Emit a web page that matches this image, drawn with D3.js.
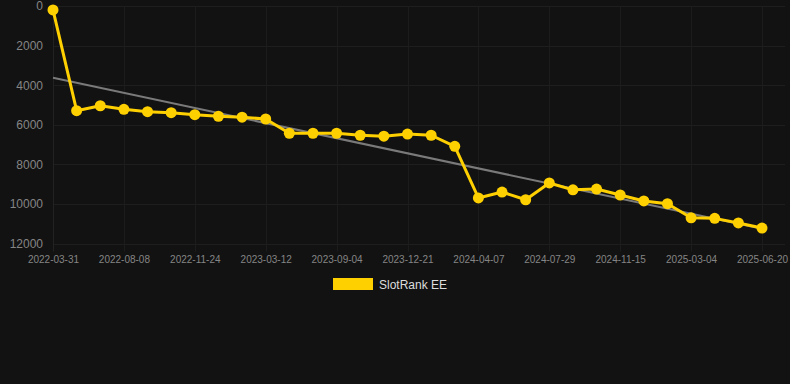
<!DOCTYPE html>
<html>
<head>
<meta charset="utf-8">
<script src="https://cdn.jsdelivr.net/npm/d3@7"></script>
<style>
  body { margin: 0; background: #121212; }
  svg { display: block; font-family: "Liberation Sans", Arial, Helvetica, sans-serif; }
</style>
</head>
<body>
<div id="chart"></div>
<script>
// data
var dates = ["2022-03-31", "2022-05-03", "2022-06-20", "2022-08-08", "2022-09-12", "2022-10-20",
    "2022-11-24", "2022-12-30", "2023-02-05", "2023-03-12", "2023-05-10", "2023-07-08",
    "2023-09-04", "2023-10-10", "2023-11-15", "2023-12-21", "2024-01-25", "2024-03-02",
    "2024-04-07", "2024-05-14", "2024-06-21", "2024-07-29", "2024-09-05", "2024-10-10",
    "2024-11-15", "2024-12-20", "2025-01-28", "2025-03-04", "2025-04-08", "2025-05-15", "2025-06-20"];
var ranks = [200, 5290, 5040, 5220, 5340, 5390, 5490, 5570, 5620, 5710,
    6430, 6430, 6430, 6530, 6580, 6470, 6530, 7090, 9700, 9400,
    9790, 8940, 9290, 9250, 9550, 9850, 9990, 10700, 10730, 10960, 11220];
var yTicks = [0, 2000, 4000, 6000, 8000, 10000, 12000];
var xTickEvery = 3;
var seriesName = "SlotRank EE";

var W = 790, H = 384;
var plotLeft = 53, plotRight = 762, plotTop = 6, plotBottom = 243.5;

var svg = d3.select("#chart").append("svg")
    .attr("width", W)
    .attr("height", H);

svg.append("rect").attr("width", W).attr("height", H).attr("fill", "#121212");

var x = d3.scalePoint()
    .domain(d3.range(dates.length))
    .range([plotLeft, plotRight]);

var y = d3.scaleLinear()
    .domain([0, 12000])
    .range([plotTop, plotBottom]);

var xTickIdx = d3.range(0, dates.length, xTickEvery);

// grid
svg.append("g")
    .selectAll("line")
    .data(yTicks)
    .enter()
    .append("line")
    .attr("x1", plotLeft)
    .attr("x2", 785)
    .attr("y1", function (d) { return Math.round(y(d)) + 0.5; })
    .attr("y2", function (d) { return Math.round(y(d)) + 0.5; })
    .attr("stroke", "#1e1e1e")
    .attr("stroke-width", 1);

svg.append("g")
    .selectAll("line")
    .data(xTickIdx)
    .enter()
    .append("line")
    .attr("x1", function (d) { return Math.round(x(d)) + 0.5; })
    .attr("x2", function (d) { return Math.round(x(d)) + 0.5; })
    .attr("y1", plotTop)
    .attr("y2", plotBottom + 8)
    .attr("stroke", function (d) { return d == 0 ? "#222" : "#1c1c1c"; })
    .attr("stroke-width", 1);

// y axis labels
var yAxis = svg.append("g")
    .attr("transform", "translate(" + 43 + ",0)")
    .call(d3.axisLeft(y).tickValues(yTicks).tickSize(0).tickPadding(0).tickFormat(d3.format("d")));
yAxis.select(".domain").remove();
yAxis.selectAll("text")
    .attr("fill", "#858585")
    .style("font-size", "12px")
    .style("font-family", "Liberation Sans, Arial, sans-serif");

// x axis labels
var xAxis = svg.append("g")
    .attr("transform", "translate(0," + 256 + ")")
    .call(d3.axisBottom(x).tickValues(xTickIdx).tickSize(0).tickPadding(0)
        .tickFormat(function (i) { return dates[i]; }));
xAxis.select(".domain").remove();
xAxis.selectAll("text")
    .attr("fill", "#858585")
    .style("font-size", "10px")
    .style("font-family", "Liberation Sans, Arial, sans-serif");

// linear trend from the series
var n = ranks.length;
var mx = d3.mean(d3.range(n));
var my = d3.mean(ranks);
var sxy = 0, sxx = 0;
for (var i = 0; i < n; i++) {
    sxy += (i - mx) * (ranks[i] - my);
    sxx += (i - mx) * (i - mx);
}
var slope = sxy / sxx;
var icpt = my - slope * mx;

svg.append("line")
    .attr("x1", x(0))
    .attr("y1", y(icpt))
    .attr("x2", x(n - 1))
    .attr("y2", y(icpt + slope * (n - 1)))
    .attr("stroke", "#7a7a7a")
    .attr("stroke-width", 2);

// series line
var line = d3.line()
    .x(function (d, i) { return x(i); })
    .y(function (d) { return y(d); });

svg.append("path")
    .datum(ranks)
    .attr("d", line)
    .attr("fill", "none")
    .attr("stroke", "#FFD000")
    .attr("stroke-width", 3)
    .attr("stroke-linejoin", "round");

svg.append("g")
    .selectAll("circle")
    .data(ranks)
    .enter()
    .append("circle")
    .attr("cx", function (d, i) { return x(i); })
    .attr("cy", function (d) { return y(d); })
    .attr("r", 5.5)
    .attr("fill", "#FFD000");

// legend
svg.append("rect")
    .attr("x", 333).attr("y", 278)
    .attr("width", 40).attr("height", 12)
    .attr("fill", "#FFD000");
svg.append("text")
    .attr("x", 379).attr("y", 288.5)
    .text(seriesName)
    .attr("fill", "#dddddd")
    .style("font-size", "12px");
</script>
</body>
</html>
